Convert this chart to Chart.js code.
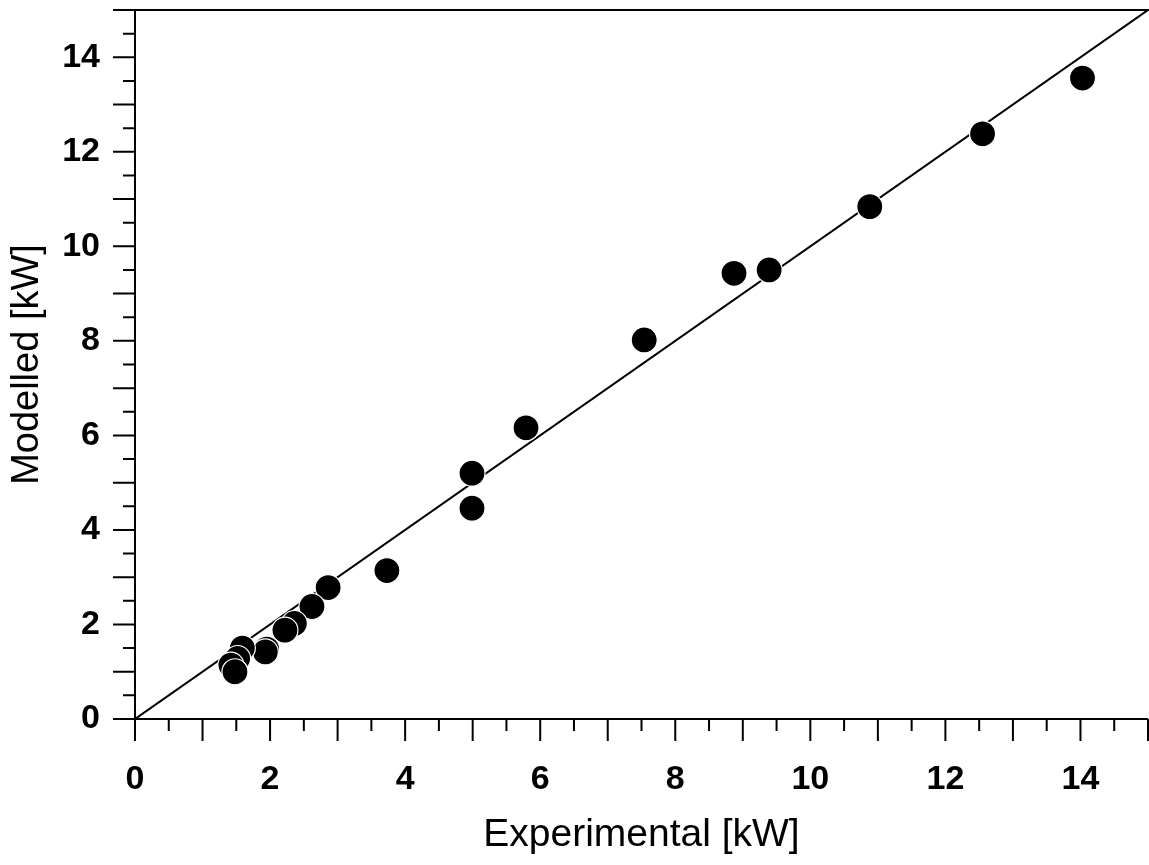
<!DOCTYPE html>
<html>
<head>
<meta charset="utf-8">
<script src="https://cdn.jsdelivr.net/npm/chart.js@4/dist/chart.umd.min.js"></script>
<style>
  html, body { margin: 0; padding: 0; background: #ffffff; }
  #wrap { width: 1149px; height: 865px; }
</style>
</head>
<body>
<div id="wrap"><canvas id="c" width="1149" height="865"></canvas></div>
<script>
// Experimental vs modelled power [kW]
const experimental = [14.03, 12.55, 10.88, 9.39, 8.87, 7.54, 5.79, 4.99, 4.99, 3.73, 2.86, 2.62, 2.36, 2.22, 1.95, 1.93, 1.59, 1.52, 1.42, 1.48];
const modelled     = [13.56, 12.38, 10.84, 9.50, 9.43, 8.02, 6.16, 5.20, 4.46, 3.14, 2.78, 2.38, 2.02, 1.88, 1.48, 1.42, 1.50, 1.28, 1.14, 1.00];
const identityX = [0, 15];
const identityY = [0, 15];
const axisMin = 0;
const axisMax = 15;
const labelStep = 2;
const tickStep = 0.5;
const xTitle = 'Experimental [kW]';
const yTitle = 'Modelled [kW]';

const FONT = "'Liberation Sans', Arial, Helvetica, sans-serif";

const axesPlugin = {
  id: 'axesFrame',
  beforeDatasetsDraw(chart) {
    const ctx = chart.ctx;
    const xs = chart.scales.x, ys = chart.scales.y;
    const x0 = xs.getPixelForValue(axisMin);
    const y0 = ys.getPixelForValue(axisMin);
    const xMaxPx = xs.getPixelForValue(axisMax);
    const yMaxPx = ys.getPixelForValue(axisMax);
    ctx.save();
    ctx.strokeStyle = '#000';
    ctx.lineWidth = 2;
    ctx.lineCap = 'butt';
    ctx.beginPath();
    ctx.moveTo(x0, y0); ctx.lineTo(xMaxPx, y0);
    ctx.moveTo(x0, y0); ctx.lineTo(x0, yMaxPx);
    ctx.moveTo(x0, yMaxPx); ctx.lineTo(xMaxPx + 1, yMaxPx);
    for (let v = axisMin; v <= axisMax + 1e-9; v += tickStep) {
      const len = Math.abs(v - Math.round(v)) < 1e-9 ? 22 : 12;
      const px = xs.getPixelForValue(v);
      ctx.moveTo(px, y0); ctx.lineTo(px, y0 + len);
      const py = ys.getPixelForValue(v);
      ctx.moveTo(x0, py); ctx.lineTo(x0 - len, py);
    }
    ctx.stroke();
    ctx.restore();
  }
};

const evenTicks = (scale) => {
  scale.ticks = scale.ticks.filter(t => Math.abs(t.value % labelStep) < 1e-9);
};

new Chart(document.getElementById('c'), {
  type: 'scatter',
  data: {
    datasets: [
      {
        label: 'Points',
        data: experimental.map((x, i) => ({ x: x, y: modelled[i] })),
        backgroundColor: '#000000',
        borderColor: '#ffffff',
        borderWidth: 1.2,
        pointRadius: 13,
        pointHoverRadius: 13,
        order: 0
      },
      {
        label: 'y = x',
        type: 'line',
        data: identityX.map((x, i) => ({ x: x, y: identityY[i] })),
        borderColor: '#000000',
        borderWidth: 2,
        pointRadius: 0,
        fill: false,
        order: 1
      }
    ]
  },
  options: {
    responsive: false,
    animation: false,
    devicePixelRatio: 1,
    layout: { autoPadding: false, padding: { top: 10, right: 1, left: 0, bottom: 0 } },
    plugins: { legend: { display: false }, tooltip: { enabled: false } },
    scales: {
      x: {
        type: 'linear',
        position: 'bottom',
        min: axisMin, max: axisMax,
        grid: { display: false, drawTicks: false },
        border: { display: false },
        afterBuildTicks: evenTicks,
        afterFit: (s) => { s.height = 146; s.paddingLeft = 0; s.paddingRight = 0; },
        ticks: {
          stepSize: labelStep,
          autoSkip: false,
          maxRotation: 0,
          padding: 40,
          color: '#000',
          font: { family: FONT, size: 34, weight: 'bold' }
        },
        title: {
          display: true,
          text: xTitle,
          color: '#000',
          padding: { top: 0, bottom: 6 },
          font: { family: FONT, size: 39, weight: 'normal' }
        }
      },
      y: {
        type: 'linear',
        position: 'left',
        min: axisMin, max: axisMax,
        grid: { display: false, drawTicks: false },
        border: { display: false },
        afterBuildTicks: evenTicks,
        afterFit: (s) => { s.width = 135; s.paddingTop = 0; s.paddingBottom = 0; },
        ticks: {
          stepSize: labelStep,
          autoSkip: false,
          padding: 35,
          color: '#000',
          font: { family: FONT, size: 34, weight: 'bold' }
        },
        title: {
          display: true,
          text: yTitle,
          color: '#000',
          padding: { top: 5, bottom: 0 },
          font: { family: FONT, size: 38, weight: 'normal' }
        }
      }
    }
  },
  plugins: [axesPlugin]
});
</script>
</body>
</html>
